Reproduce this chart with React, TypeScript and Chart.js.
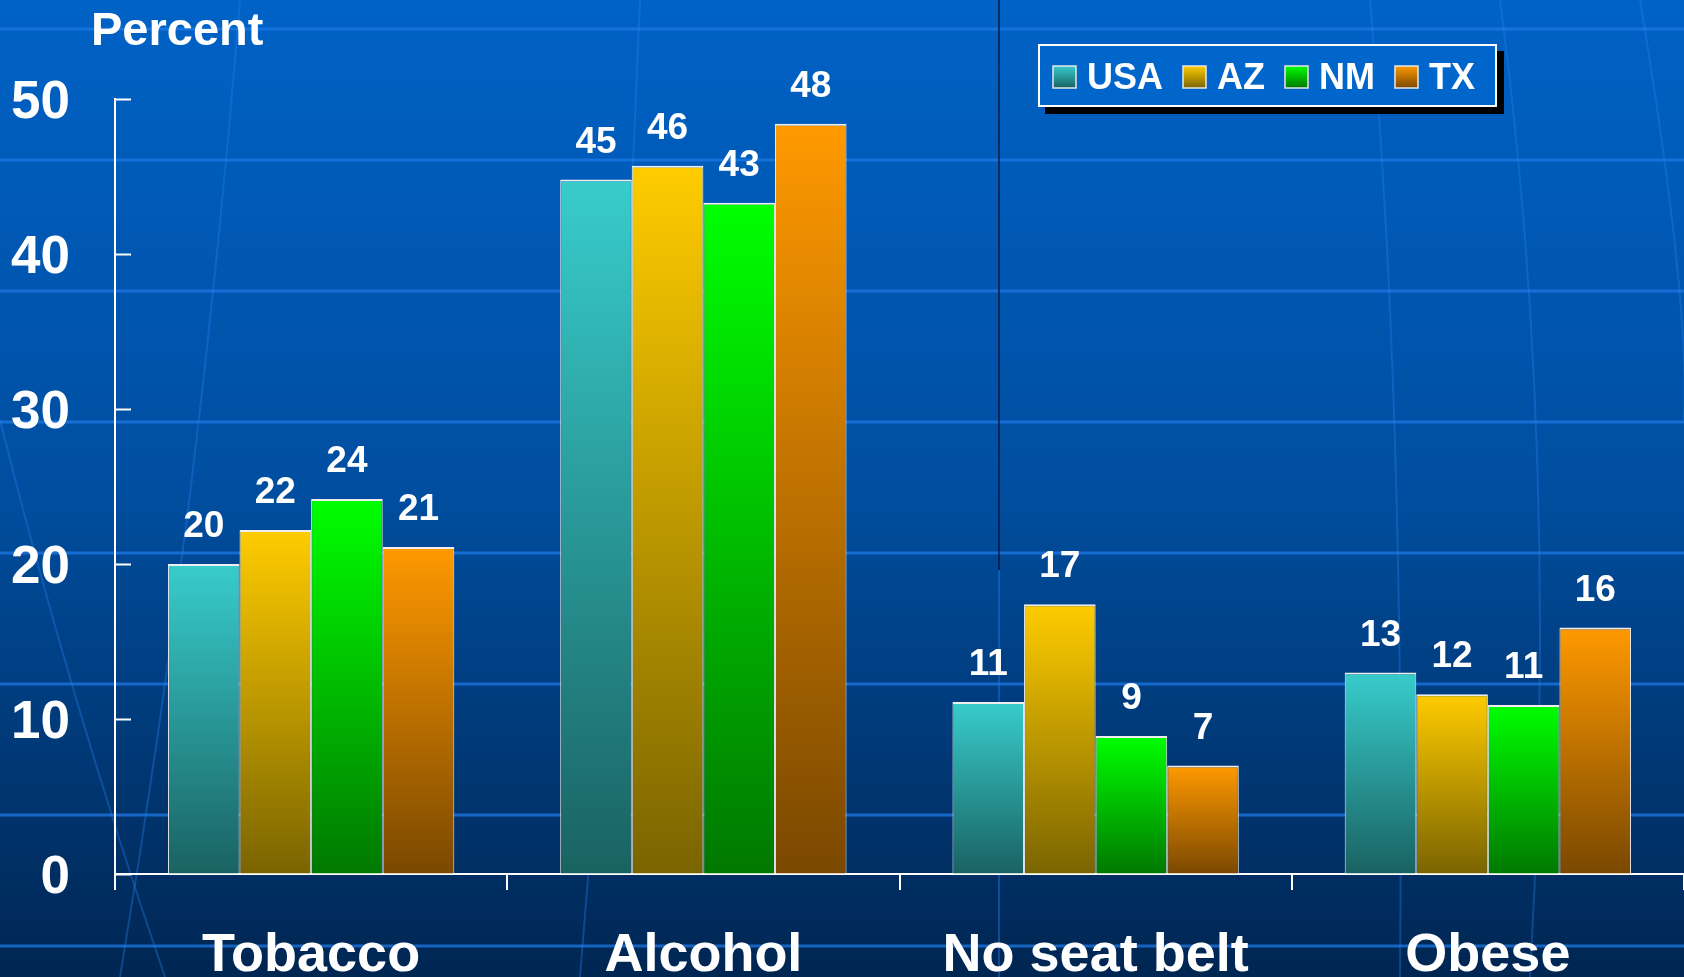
import React, { useEffect, useRef } from 'react';
import { Chart, registerables } from 'chart.js';

Chart.register(...registerables);

const categories = ['Tobacco', 'Alcohol', 'No seat belt', 'Obese'];
const seriesNames = ['USA', 'AZ', 'NM', 'TX'];
const usaValues = [20.0, 44.8, 11.1, 13.0];
const azValues = [22.2, 45.7, 17.4, 11.6];
const nmValues = [24.2, 43.3, 8.9, 10.9];
const txValues = [21.1, 48.4, 7.0, 15.9];
const yTickValues = [0, 10, 20, 30, 40, 50];
const yAxisTitle = 'Percent';

const topColors = ['#38CCCC', '#FFCC00', '#00FF00', '#FF9900'];
const bottomColors = ['#1A6262', '#7A6400', '#007800', '#7A4800'];

const FONT = "'Liberation Sans', Arial, Helvetica, sans-serif";

const backgroundPlugin = {
  id: 'bgDecor',
  beforeDraw(chart: any) {
    const { ctx, width, height } = chart;
    ctx.save();
    const g = ctx.createLinearGradient(0, 0, 0, height);
    g.addColorStop(0, '#0062C6');
    g.addColorStop(0.5, '#004EA0');
    g.addColorStop(1, '#002652');
    ctx.fillStyle = g;
    ctx.fillRect(0, 0, width, height);
    ctx.strokeStyle = 'rgba(30,120,230,0.75)';
    ctx.lineWidth = 3;
    for (let y = 29; y < height; y += 131) {
      ctx.beginPath();
      ctx.moveTo(0, y);
      ctx.lineTo(width, y);
      ctx.stroke();
    }
    ctx.strokeStyle = 'rgba(40,130,240,0.35)';
    ctx.lineWidth = 2;
    const curves = [
      [[0, 420], [70, 700], [165, 977]],
      [[240, 0], [200, 500], [120, 977]],
      [[1370, 0], [1405, 400], [1400, 977]],
      [[1500, 0], [1560, 450], [1530, 977]],
      [[1640, 0], [1690, 300], [1684, 420]],
      [[640, 0], [620, 500], [580, 977]],
    ];
    for (const c of curves) {
      ctx.beginPath();
      ctx.moveTo(c[0][0], c[0][1]);
      ctx.quadraticCurveTo(c[1][0], c[1][1], c[2][0], c[2][1]);
      ctx.stroke();
    }
    ctx.strokeStyle = 'rgba(0,10,40,0.8)';
    ctx.lineWidth = 1.5;
    ctx.beginPath();
    ctx.moveTo(999, 0);
    ctx.lineTo(999, 570);
    ctx.stroke();
    ctx.strokeStyle = 'rgba(30,120,230,0.6)';
    ctx.beginPath();
    ctx.moveTo(999, 570);
    ctx.lineTo(999, height);
    ctx.stroke();
    ctx.restore();
  },
};

const overlayPlugin = {
  id: 'overlay',
  afterDatasetsDraw(chart: any) {
    const { ctx, chartArea, scales } = chart;
    ctx.save();
    ctx.strokeStyle = '#FFFFFF';
    ctx.lineWidth = 2;
    for (const v of yTickValues) {
      const y = Math.round(scales.y.getPixelForValue(v)) + 0.5;
      ctx.beginPath();
      ctx.moveTo(chartArea.left, y);
      ctx.lineTo(chartArea.left + 16, y);
      ctx.stroke();
    }
    ctx.fillStyle = '#FFFFFF';
    ctx.font = `bold 37px ${FONT}`;
    ctx.textAlign = 'center';
    ctx.textBaseline = 'alphabetic';
    chart.data.datasets.forEach((ds: any, i: number) => {
      const meta = chart.getDatasetMeta(i);
      meta.data.forEach((el: any, j: number) => {
        const v = ds.data[j] as number;
        ctx.fillText(String(Math.round(v)), el.x, el.y - 27);
      });
    });
    ctx.textAlign = 'left';
    ctx.font = `bold 47px ${FONT}`;
    ctx.fillText(yAxisTitle, 91, 45);

    const bx = 1038, by = 44, bw = 459, bh = 63;
    ctx.fillStyle = '#000000';
    ctx.fillRect(bx + 7, by + 7, bw, bh);
    ctx.fillStyle = '#0066CC';
    ctx.fillRect(bx, by, bw, bh);
    ctx.strokeStyle = '#FFFFFF';
    ctx.lineWidth = 2;
    ctx.strokeRect(bx + 1, by + 1, bw - 2, bh - 2);
    ctx.font = `bold 36px ${FONT}`;
    ctx.textBaseline = 'alphabetic';
    let x = bx + 15;
    chart.data.datasets.forEach((ds: any, i: number) => {
      const sy = 66, ss = 22;
      const g = ctx.createLinearGradient(0, sy, 0, sy + ss);
      g.addColorStop(0, topColors[i]);
      g.addColorStop(1, bottomColors[i]);
      ctx.fillStyle = g;
      ctx.fillRect(x, sy, ss + 1, ss);
      ctx.strokeStyle = '#E8E8E8';
      ctx.lineWidth = 1.5;
      ctx.strokeRect(x, sy, ss + 1, ss);
      x += ss + 1 + 11;
      ctx.fillStyle = '#FFFFFF';
      ctx.fillText(ds.label, x, 89);
      x += ctx.measureText(ds.label).width + 20;
    });
    ctx.restore();
  },
};

export default function App() {
  const canvasRef = useRef<HTMLCanvasElement | null>(null);

  useEffect(() => {
    document.body.style.margin = '0';
    const canvas = canvasRef.current;
    if (!canvas) return;
    const valueSets = [usaValues, azValues, nmValues, txValues];
    const datasets = seriesNames.map((name, i) => ({
      label: name,
      data: valueSets[i],
      backgroundColor: (c: any) => {
        const chart = c.chart;
        if (!chart.chartArea || c.type !== 'data') return topColors[i];
        const yTop = chart.scales.y.getPixelForValue(c.raw as number);
        const yBot = chart.scales.y.getPixelForValue(0);
        const g = chart.ctx.createLinearGradient(0, yTop, 0, yBot);
        g.addColorStop(0, topColors[i]);
        g.addColorStop(1, bottomColors[i]);
        return g;
      },
      borderColor: '#EEEEEE',
      borderWidth: { top: 2, left: 1, right: 1, bottom: 0 },
      borderSkipped: false,
      categoryPercentage: 0.73,
      barPercentage: 1.0,
    }));

    const chart = new Chart(canvas, {
      type: 'bar',
      data: { labels: categories, datasets },
      plugins: [backgroundPlugin, overlayPlugin],
      options: {
        responsive: false,
        animation: false,
        layout: { padding: { top: 99, left: 0, right: 0, bottom: 0 } },
        plugins: {
          legend: { display: false },
          title: { display: false },
          tooltip: { enabled: false },
        },
        scales: {
          x: {
            afterFit: (s: any) => { s.height = 103; },
            grid: {
              display: true,
              drawOnChartArea: false,
              drawTicks: true,
              tickLength: 16,
              color: '#FFFFFF',
              lineWidth: 2,
              offset: true,
            },
            border: { display: true, color: '#FFFFFF', width: 2 },
            ticks: {
              color: '#FFFFFF',
              font: { family: FONT, size: 54, weight: 'bold' },
              padding: 34,
              maxRotation: 0,
              autoSkip: false,
            },
          },
          y: {
            min: 0,
            max: 50,
            afterFit: (s: any) => { s.width = 115; },
            grid: {
              display: true,
              drawOnChartArea: false,
              drawTicks: false,
              color: 'rgba(0,0,0,0)',
            },
            border: { display: true, color: '#FFFFFF', width: 2 },
            ticks: {
              stepSize: 10,
              color: '#FFFFFF',
              font: { family: FONT, size: 53, weight: 'bold' },
              padding: 45,
              labelOffset: 4,
            },
          },
        },
      },
    } as any);
    return () => chart.destroy();
  }, []);

  return (
    <div style={{ width: 1684, height: 977, overflow: 'hidden' }}>
      <canvas ref={canvasRef} width={1684} height={977} style={{ display: 'block' }} />
    </div>
  );
}
